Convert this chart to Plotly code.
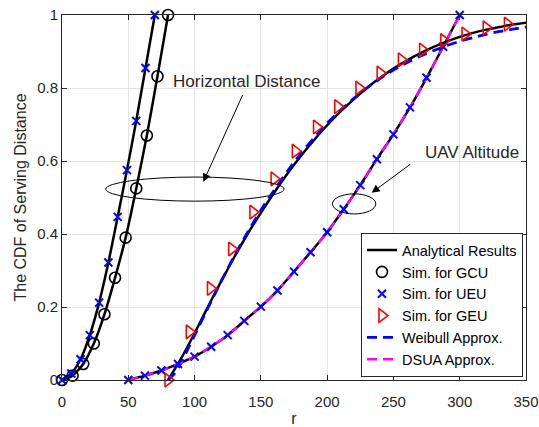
import plotly.graph_objects as go

# ---------------- data ----------------
# GCU (horizontal distance) simulation points
gcu_r = [0, 8, 16, 24, 32, 40, 48, 56, 64, 72, 80]
gcu_cdf = [0, 0.012, 0.044, 0.10, 0.18, 0.28, 0.39, 0.525, 0.67, 0.832, 1.0]

# UEU horizontal distance simulation points
ueu_h_r = [0, 7, 14, 21, 28, 35, 42, 49, 56, 63, 70]
ueu_h_cdf = [0, 0.018, 0.057, 0.123, 0.212, 0.322, 0.447, 0.575, 0.71, 0.855, 1.0]

# UEU altitude (UAV altitude) simulation points
alt_r = [50, 62.5, 75, 87.5, 100, 112.5, 125, 137.5, 150, 162.5, 175, 187.5,
         200, 212.5, 225, 237.5, 250, 262.5, 275, 287.5, 300]
alt_cdf = [0, 0.012, 0.026, 0.044, 0.064, 0.091, 0.123, 0.162, 0.201, 0.245,
           0.297, 0.35, 0.405, 0.468, 0.534, 0.605, 0.673, 0.747, 0.828, 0.913, 1.0]

# GEU horizontal distance simulation points
geu_r = [80, 96, 112, 128, 144, 160, 176, 192, 208, 224, 240, 256, 272, 288, 304, 320, 336]
geu_cdf = [0, 0.132, 0.251, 0.359, 0.46, 0.551, 0.627, 0.693, 0.749, 0.80,
           0.841, 0.877, 0.904, 0.93, 0.948, 0.965, 0.975]

# GEU analytical curve
geu_an_r = [80, 90, 100, 110, 120, 130, 140, 150, 160, 170, 180, 190, 200, 210,
            220, 230, 240, 250, 260, 270, 280, 290, 300, 310, 320, 330, 340, 350]
geu_an_cdf = [0, 0.06, 0.128, 0.2, 0.27, 0.337, 0.4, 0.458, 0.513, 0.565, 0.613,
              0.657, 0.698, 0.735, 0.769, 0.8, 0.828, 0.853, 0.875, 0.895, 0.912,
              0.927, 0.94, 0.951, 0.96, 0.967, 0.974, 0.979]

# Weibull approximation for GEU
wb_r = [80, 85, 90, 95, 100, 110, 120, 130, 140, 150, 160, 170, 180, 190, 200,
        210, 220, 230, 240, 250, 260, 270, 280, 290, 300, 310, 320, 330, 340, 350]
wb_cdf = [0, 0.018, 0.048, 0.085, 0.122, 0.197, 0.27, 0.34, 0.405, 0.465, 0.52,
          0.572, 0.62, 0.663, 0.703, 0.739, 0.771, 0.8, 0.826, 0.849, 0.869, 0.887,
          0.902, 0.916, 0.928, 0.938, 0.947, 0.955, 0.961, 0.967]

x_ticks = [0, 50, 100, 150, 200, 250, 300, 350]
y_ticks = [0, 0.2, 0.4, 0.6, 0.8, 1]
y_tick_text = ["0", "0.2", "0.4", "0.6", "0.8", "1"]

FONT = "Liberation Sans, Arial, sans-serif"
TXT = "#262626"

fig = go.Figure()

# analytical black lines
an_sets = [(gcu_r, gcu_cdf), (ueu_h_r, ueu_h_cdf), (geu_an_r, geu_an_cdf), (alt_r, alt_cdf)]
for i, (xs, ys) in enumerate(an_sets):
    fig.add_trace(go.Scatter(x=xs, y=ys, mode="lines",
                             line=dict(color="black", width=2.5, shape="spline", smoothing=0.6),
                             name="Analytical Results", showlegend=(i == 0),
                             legendgroup="g1", legendrank=1, cliponaxis=False))

# Weibull approx
fig.add_trace(go.Scatter(x=wb_r, y=wb_cdf, mode="lines",
                         line=dict(color="#0000ff", width=2.8, dash="10px,6px", shape="spline", smoothing=0.6),
                         name="Weibull Approx.", legendgroup="g5", legendrank=5))
# DSUA approx
fig.add_trace(go.Scatter(x=alt_r, y=alt_cdf, mode="lines",
                         line=dict(color="#ff00ff", width=2.5, dash="10px,6px", shape="spline", smoothing=0.6),
                         name="DSUA Approx.", legendgroup="g6", legendrank=6))

# markers
fig.add_trace(go.Scatter(x=gcu_r, y=gcu_cdf, mode="markers",
                         marker=dict(symbol="circle-open", size=11, color="black", line=dict(width=1.6)),
                         name="Sim. for GCU", legendgroup="g2", legendrank=2, cliponaxis=False))
fig.add_trace(go.Scatter(x=ueu_h_r + alt_r, y=ueu_h_cdf + alt_cdf, mode="markers",
                         marker=dict(symbol="x-thin-open", size=8, color="#0000ff", line=dict(width=2, color="#0000ff")),
                         name="Sim. for UEU", legendgroup="g3", legendrank=3, cliponaxis=False))
fig.add_trace(go.Scatter(x=geu_r, y=geu_cdf, mode="markers",
                         marker=dict(symbol="triangle-right-open", size=12, color="#ff0000", line=dict(width=1.6)),
                         name="Sim. for GEU", legendgroup="g4", legendrank=4, cliponaxis=False))

# ellipses
fig.add_shape(type="circle", xref="x", yref="y", x0=33, x1=167.5, y0=0.49, y1=0.556,
              line=dict(color="black", width=1))
fig.add_shape(type="circle", xref="x", yref="y", x0=204, x1=236.7, y0=0.455, y1=0.51,
              line=dict(color="black", width=1))

# arrows
fig.add_annotation(x=106.6, y=0.543, ax=136.8, ay=0.785, xref="x", yref="y",
                   axref="x", ayref="y", text="", showarrow=True, arrowhead=2,
                   arrowsize=1.6, arrowwidth=1, arrowcolor="black")
fig.add_annotation(x=233.6, y=0.513, ax=263.8, ay=0.594, xref="x", yref="y",
                   axref="x", ayref="y", text="", showarrow=True, arrowhead=2,
                   arrowsize=1.6, arrowwidth=1, arrowcolor="black")

# texts
fig.add_annotation(x=139.5, y=0.818, xref="x", yref="y", text="Horizontal Distance",
                   xanchor="center", yanchor="middle",
                   showarrow=False, font=dict(family=FONT, size=17, color=TXT))
fig.add_annotation(x=309, y=0.624, xref="x", yref="y", text="UAV Altitude",
                   xanchor="center", yanchor="middle",
                   showarrow=False, font=dict(family=FONT, size=17, color=TXT))

axis_common = dict(showline=True, linecolor=TXT, linewidth=1, mirror="ticks",
                   ticks="inside", ticklen=5, tickcolor=TXT, showgrid=True,
                   gridcolor="#e3e3e3", gridwidth=1, zeroline=False, automargin=False,
                   tickfont=dict(family=FONT, size=15, color=TXT))

fig.update_xaxes(range=[0, 350], tickvals=x_ticks, ticklabelstandoff=8,
                 title=dict(text="r", font=dict(family=FONT, size=16, color=TXT), standoff=10),
                 **axis_common)
fig.update_yaxes(range=[0, 1], tickvals=y_ticks, ticktext=y_tick_text,
                 title=dict(text="The CDF of Serving Distance", font=dict(family=FONT, size=16, color=TXT), standoff=6),
                 **axis_common)

fig.update_layout(
    width=539, height=427,
    margin=dict(l=62, r=13, t=15, b=47),
    paper_bgcolor="white", plot_bgcolor="white",
    font=dict(family=FONT, color=TXT),
    legend=dict(x=0.9935, y=0.008, xanchor="right", yanchor="bottom",
                bgcolor="white", bordercolor=TXT, borderwidth=1,
                font=dict(family=FONT, size=14.5, color="black"),
                tracegroupgap=0, traceorder="grouped"),
)

fig.write_html("out.html")
